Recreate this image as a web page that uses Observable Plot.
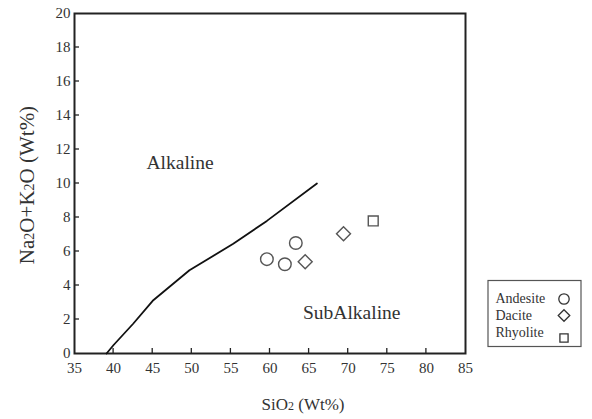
<!DOCTYPE html>
<html><head><meta charset="utf-8">
<script src="https://cdn.jsdelivr.net/npm/d3@7"></script>
<script src="https://cdn.jsdelivr.net/npm/@observablehq/plot@0.6"></script>
<style>body{margin:0;background:#fff} svg text{font-family:"Liberation Serif","DejaVu Serif",serif}</style>
</head><body><div id="chart"></div>
<script>
// Alkaline / SubAlkaline boundary (Irvine & Baragar style)
const boundarySiO2 = [39.1, 40, 42.5, 45, 49.7, 55.3, 59.6, 66];
const boundaryAlk  = [0, 0.5, 1.75, 3.1, 4.9, 6.45, 7.8, 10];

// samples
const rockType = ["Andesite", "Andesite", "Andesite", "Dacite", "Dacite", "Rhyolite"];
const sampleSiO2 = [59.6, 61.9, 63.3, 64.5, 69.4, 73.2];
const sampleAlk  = [5.55, 5.25, 6.5, 5.4, 7.05, 7.8];

const legendNames = ["Andesite", "Dacite", "Rhyolite"];
const legendSymbols = ["circle", "diamond2", "square2"];

const fieldNames = ["Alkaline", "SubAlkaline"];
const fieldSiO2 = [48.5, 70.45];
const fieldAlk = [11.25, 2.42];

const xTicks = [35, 40, 45, 50, 55, 60, 65, 70, 75, 80, 85];
const yTicks = [0, 2, 4, 6, 8, 10, 12, 14, 16, 18, 20];

const boundary = boundarySiO2.map((x, i) => ({x, y: boundaryAlk[i]}));
const samples = rockType.map((t, i) => ({t, x: sampleSiO2[i], y: sampleAlk[i]}));
const fields = fieldNames.map((n, i) => ({n, x: fieldSiO2[i], y: fieldAlk[i]}));

const font = "Liberation Serif, DejaVu Serif, serif";
const ink = "#333";

const chart = Plot.plot({
  width: 592,
  height: 419,
  marginLeft: 74,
  marginRight: 127,
  marginTop: 13,
  marginBottom: 66,
  style: {fontFamily: font, fontSize: "15px", color: ink, background: "#fff"},
  x: {domain: [35, 85]},
  y: {domain: [0, 20]},
  symbol: {domain: legendNames, range: legendSymbols},
  marks: [
    Plot.axisX({ticks: xTicks, tickSize: 0, tickPadding: 9, label: null, fill: ink, fontSize: 15}),
    Plot.axisY({ticks: yTicks, tickSize: 0, tickPadding: 4, label: null, fill: ink, fontSize: 15}),
    Plot.frame({stroke: "#222", strokeWidth: 2}),
    Plot.line(boundary, {x: "x", y: "y", stroke: "#111", strokeWidth: 1.8}),
    Plot.dot(samples, {x: "x", y: "y", symbol: "t", r: 6.3, stroke: "#555", strokeWidth: 1.4, fill: "none"}),
    Plot.text(fields, {x: "x", y: "y", text: "n", fontSize: 19.5, fill: ink, fontFamily: font})
  ]
});

document.getElementById("chart").appendChild(chart);

const svg = d3.select(chart);
const sx = chart.scale("x"), sy = chart.scale("y");

// inward tick marks drawn from the plot scales
const tk = svg.append("g").attr("stroke", "#222").attr("stroke-width", 1.3);
const y0 = sy.apply(0), x0 = sx.apply(35);
xTicks.slice(1, -1).forEach(v => {
  const px = sx.apply(v);
  tk.append("line").attr("x1", px).attr("x2", px).attr("y1", y0).attr("y2", y0 - 5);
});
yTicks.slice(1, -1).forEach(v => {
  const py = sy.apply(v);
  tk.append("line").attr("x1", x0).attr("x2", x0 + 5).attr("y1", py).attr("y2", py);
});

// Axis titles with subscripts
const yt = svg.append("text")
  .attr("transform", "translate(34,185) rotate(-90)")
  .attr("text-anchor", "middle")
  .attr("font-family", font).attr("font-size", 21).attr("fill", ink);
yt.append("tspan").text("Na");
yt.append("tspan").attr("font-size", 14).text("2");
yt.append("tspan").text("O+K");
yt.append("tspan").attr("font-size", 14).text("2");
yt.append("tspan").text("O (Wt%)");

const xt = svg.append("text")
  .attr("x", 303).attr("y", 410)
  .attr("text-anchor", "middle")
  .attr("font-family", font).attr("font-size", 17).attr("fill", ink);
xt.append("tspan").text("SiO");
xt.append("tspan").attr("font-size", 12).text("2");
xt.append("tspan").text(" (Wt%)");

// Legend box
const lg = svg.append("g").attr("text-anchor", "start");
lg.append("rect").attr("x", 488).attr("y", 280.5).attr("width", 93).attr("height", 66)
  .attr("fill", "none").attr("stroke", "#555").attr("stroke-width", 1.2);
const d3sym = {circle: d3.symbolCircle, diamond2: d3.symbolDiamond2, square2: d3.symbolSquare2};
const legendBase = [303, 320, 337];
const legendSym = [299, 315.5, 338];
legendNames.forEach((n, i) => {
  lg.append("text").attr("x", 495.5).attr("y", legendBase[i])
    .attr("font-family", font).attr("font-size", 14).attr("fill", ink).text(n);
  lg.append("path").attr("transform", `translate(564,${legendSym[i]})`)
    .attr("d", d3.symbol(d3sym[legendSymbols[i]], Math.PI * 27)())
    .attr("fill", "none").attr("stroke", "#333").attr("stroke-width", 1.3);
});
</script>
</body></html>
